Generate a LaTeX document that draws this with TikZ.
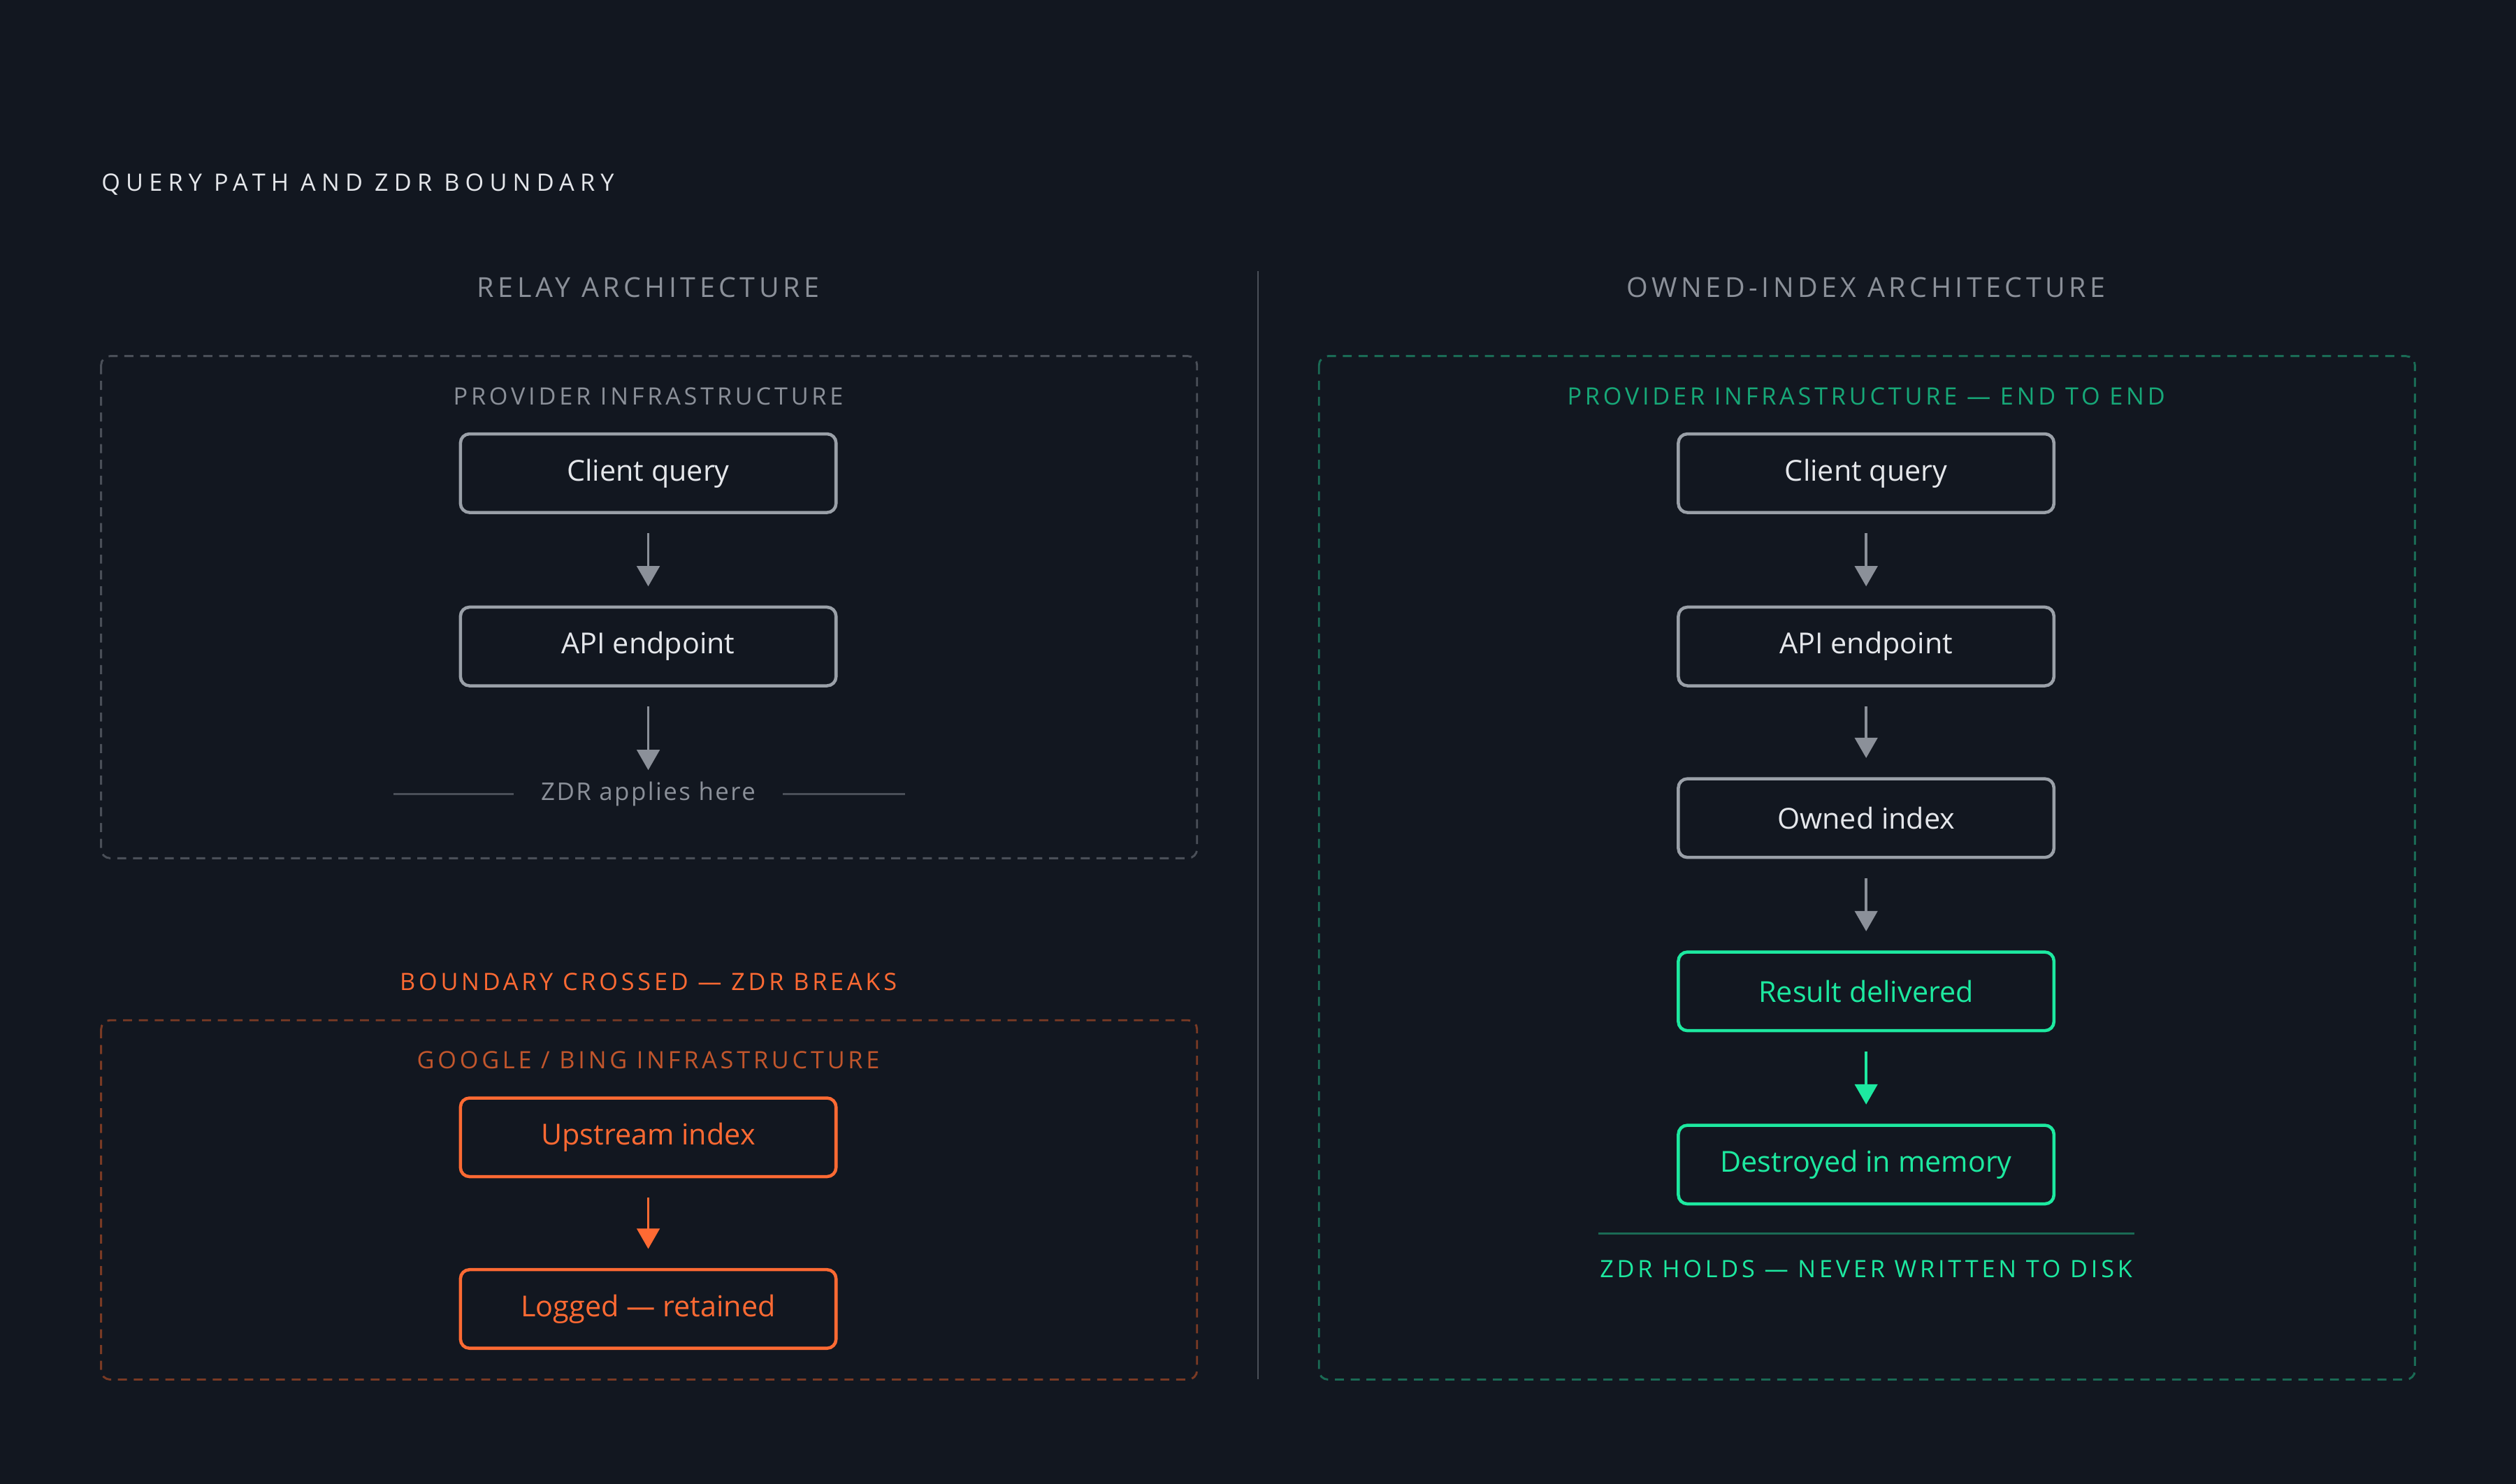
\documentclass[tikz,border=0pt]{standalone}
\usepackage{fontspec}
\setmainfont{Open Sans}
\newfontfamily\capsfont[LetterSpace=14]{Open Sans}
\newfontfamily\titlefont[LetterSpace=24]{Open Sans}
\usetikzlibrary{arrows.meta, positioning}

\definecolor{bgdark}{HTML}{121720}
\definecolor{boxgray}{HTML}{9AA0A8}
\definecolor{textlight}{HTML}{E5E7EB}
\definecolor{dimgray}{HTML}{8B9099}
\definecolor{dashgray}{HTML}{4A4F58}
\definecolor{hotorange}{HTML}{FF6A33}
\definecolor{dimorange}{HTML}{C2562C}
\definecolor{dashorange}{HTML}{7A3A24}
\definecolor{mint}{HTML}{1DE9A0}
\definecolor{dimmint}{HTML}{17A878}
\definecolor{dashmint}{HTML}{1A6B55}

\tikzset{
  stage/.style={draw=boxgray, line width=1.4pt, rounded corners=4pt, fill=bgdark,
    minimum width=5.85cm, minimum height=1.225cm, text=textlight, font=\fontsize{12.8}{14}\selectfont},
  hotstage/.style={stage, draw=hotorange, text=hotorange},
  safestage/.style={stage, draw=mint, text=mint},
  caption/.style={font=\capsfont\fontsize{10.6}{12}\selectfont, inner sep=0pt},
  zone/.style={dashed, dash pattern=on 4pt off 3pt, line width=0.9pt, rounded corners=4pt},
  flow/.style={-{Triangle[width=10pt,length=9pt]}, line width=1.2pt, draw=dimgray, shorten <=8.5pt, shorten >=8.5pt}
}

\begin{document}
\begin{tikzpicture}[x=0.025cm, y=-0.025cm]
\fill[bgdark] (0,0) rectangle (1568,925);
\useasboundingbox (0,0) rectangle (1568,925);

\node[caption, anchor=west, text=textlight, font=\titlefont\fontsize{10.6}{12}\selectfont] (title) at (63,115) {QUERY PATH AND ZDR BOUNDARY};
\node[caption, text=dimgray, font=\capsfont\fontsize{12.2}{14}\selectfont] (relayhead) at (404,179) {RELAY ARCHITECTURE};
\node[caption, text=dimgray, font=\capsfont\fontsize{12.2}{14}\selectfont] (ownedhead) at (1163,179) {OWNED-INDEX ARCHITECTURE};
\coordinate (divtop) at (784,169);
\coordinate (divbot) at (784,860);
\draw[dashgray, line width=0.9pt] (divtop) -- (divbot);

% relay side
\draw[zone, draw=dashgray] (63,222) rectangle (746,535);
\node[caption, text=dimgray] (provl) at (404,247) {PROVIDER INFRASTRUCTURE};
\node[stage] (lquery) at (404,295) {Client query};
\node[stage] (lapi) at (404,403) {API endpoint};
\node[caption, font=\fontsize{10.8}{12}\selectfont\addfontfeature{LetterSpace=7}, text=dimgray] (zdrhere) at (404,495) {ZDR applies here};
\coordinate (zl1) at (245,495);
\coordinate (zl2) at (564,495);
\draw[dashgray, line width=1pt] (zl1) -- ([xshift=-12pt]zdrhere.west);
\draw[dashgray, line width=1pt] ([xshift=12pt]zdrhere.east) -- (zl2);
\draw[flow] (lquery) -- (lapi);
\draw[flow, shorten >=0pt] (lapi.south) -- ([yshift=5pt]zdrhere.north);

\node[caption, text=hotorange] (crossed) at (404,612) {BOUNDARY CROSSED — ZDR BREAKS};
\draw[zone, draw=dashorange] (63,636) rectangle (746,860);
\node[caption, text=dimorange] (googl) at (404,661) {GOOGLE / BING INFRASTRUCTURE};
\node[hotstage] (upstream) at (404,709) {Upstream index};
\node[hotstage] (logged) at (404,816) {Logged — retained};
\draw[flow, draw=hotorange] (upstream) -- (logged);

% owned side
\draw[zone, draw=dashmint] (822,222) rectangle (1505,860);
\node[caption, text=dimmint] (provr) at (1163,247) {PROVIDER INFRASTRUCTURE — END TO END};
\node[stage] (rquery) at (1163,295) {Client query};
\node[stage] (rapi) at (1163,403) {API endpoint};
\node[stage] (owned) at (1163,510) {Owned index};
\node[safestage] (result) at (1163,618) {Result delivered};
\node[safestage] (destroyed) at (1163,726) {Destroyed in memory};
\foreach \a/\b in {rquery/rapi, rapi/owned, owned/result}
  \draw[flow] (\a) -- (\b);
\draw[flow, draw=mint] (result) -- (destroyed);
\coordinate (hl1) at (996,769);
\coordinate (hl2) at (1330,769);
\draw[dashmint, line width=1pt] (hl1) -- (hl2);
\node[caption, text=mint] (holds) at (1163,791) {ZDR HOLDS — NEVER WRITTEN TO DISK};
\end{tikzpicture}
\end{document}
